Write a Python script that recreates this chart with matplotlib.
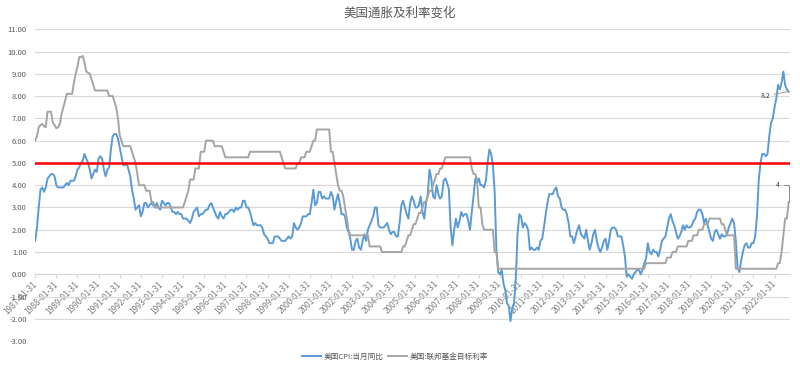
import matplotlib.pyplot as plt

plt.rcParams['font.family'] = ['Noto Sans CJK SC', 'DejaVu Sans']

# monthly data, 1987-01 .. 2022-09
cpi_yoy = [
    1.5, 2.1, 3.0, 3.8, 3.9, 3.7, 3.9, 4.3, 4.4, 4.5, 4.5, 4.4,  # 1987
    4.0, 3.9, 3.9, 3.9, 3.9, 4.0, 4.1, 4.0, 4.2, 4.2, 4.2, 4.4,  # 1988
    4.7, 4.8, 5.0, 5.1, 5.4, 5.2, 5.0, 4.7, 4.3, 4.5, 4.7, 4.6,  # 1989
    5.2, 5.3, 5.2, 4.7, 4.4, 4.7, 4.8, 5.6, 6.2, 6.3, 6.3, 6.1,  # 1990
    5.7, 5.3, 4.9, 4.9, 5.0, 4.7, 4.4, 3.8, 3.4, 2.9, 3.0, 3.1,  # 1991
    2.6, 2.8, 3.2, 3.2, 3.0, 3.1, 3.2, 3.1, 3.0, 3.2, 3.0, 2.9,  # 1992
    3.3, 3.2, 3.1, 3.2, 3.2, 3.0, 2.8, 2.8, 2.7, 2.8, 2.7, 2.7,  # 1993
    2.5, 2.5, 2.5, 2.4, 2.3, 2.5, 2.8, 2.9, 3.0, 2.6, 2.7, 2.7,  # 1994
    2.8, 2.9, 2.9, 3.1, 3.2, 3.0, 2.8, 2.6, 2.5, 2.8, 2.6, 2.5,  # 1995
    2.7, 2.7, 2.8, 2.9, 2.9, 2.8, 3.0, 2.9, 3.0, 3.0, 3.3, 3.3,  # 1996
    3.0, 3.0, 2.8, 2.5, 2.2, 2.3, 2.2, 2.2, 2.2, 2.1, 1.8, 1.7,  # 1997
    1.6, 1.4, 1.4, 1.4, 1.7, 1.7, 1.7, 1.6, 1.5, 1.5, 1.5, 1.6,  # 1998
    1.7, 1.6, 1.7, 2.3, 2.1, 2.0, 2.1, 2.3, 2.6, 2.6, 2.6, 2.7,  # 1999
    2.7, 3.2, 3.8, 3.1, 3.2, 3.7, 3.7, 3.4, 3.5, 3.4, 3.4, 3.4,  # 2000
    3.7, 3.5, 2.9, 3.3, 3.6, 3.2, 2.7, 2.7, 2.6, 2.1, 1.9, 1.6,  # 2001
    1.1, 1.1, 1.5, 1.6, 1.2, 1.1, 1.5, 1.8, 1.5, 2.0, 2.2, 2.4,  # 2002
    2.6, 3.0, 3.0, 2.2, 2.1, 2.1, 2.1, 2.2, 2.3, 2.0, 1.8, 1.9,  # 2003
    1.9, 1.7, 1.7, 2.3, 3.1, 3.3, 3.0, 2.7, 2.5, 3.2, 3.5, 3.3,  # 2004
    3.0, 3.0, 3.1, 3.5, 2.8, 2.5, 3.2, 3.6, 4.7, 4.3, 3.5, 3.4,  # 2005
    4.0, 3.6, 3.4, 3.5, 4.2, 4.3, 4.1, 3.8, 2.1, 1.3, 2.0, 2.5,  # 2006
    2.1, 2.4, 2.8, 2.6, 2.7, 2.7, 2.4, 2.0, 2.8, 3.5, 4.3, 4.1,  # 2007
    4.3, 4.0, 4.0, 3.9, 4.2, 5.0, 5.6, 5.4, 4.9, 3.7, 1.1, 0.1,  # 2008
    0.0, 0.2, -0.4, -0.7, -1.3, -1.4, -2.1, -1.5, -1.3, -0.2, 1.8, 2.7,  # 2009
    2.6, 2.1, 2.3, 2.2, 2.0, 1.1, 1.2, 1.1, 1.1, 1.2, 1.1, 1.5,  # 2010
    1.6, 2.1, 2.7, 3.2, 3.6, 3.6, 3.6, 3.8, 3.9, 3.5, 3.4, 3.0,  # 2011
    2.9, 2.9, 2.7, 2.3, 1.7, 1.7, 1.4, 1.7, 2.0, 2.2, 1.8, 1.7,  # 2012
    1.6, 2.0, 1.5, 1.1, 1.4, 1.8, 2.0, 1.5, 1.2, 1.0, 1.2, 1.5,  # 2013
    1.6, 1.1, 1.5, 2.0, 2.1, 2.1, 2.0, 1.7, 1.7, 1.7, 1.3, 0.8,  # 2014
    -0.1, 0.0, -0.1, -0.2, 0.0, 0.1, 0.2, 0.2, 0.0, 0.2, 0.5, 0.7,  # 2015
    1.4, 1.0, 0.9, 1.1, 1.0, 1.0, 0.8, 1.1, 1.5, 1.6, 1.7, 2.1,  # 2016
    2.5, 2.7, 2.4, 2.2, 1.9, 1.6, 1.7, 1.9, 2.2, 2.0, 2.2, 2.1,  # 2017
    2.1, 2.2, 2.4, 2.5, 2.8, 2.9, 2.9, 2.7, 2.3, 2.5, 2.2, 1.9,  # 2018
    1.6, 1.5, 1.9, 2.0, 1.8, 1.6, 1.8, 1.7, 1.7, 1.8, 2.1, 2.3,  # 2019
    2.5, 2.3, 1.5, 0.3, 0.1, 0.6, 1.0, 1.3, 1.4, 1.2, 1.2, 1.4,  # 2020
    1.4, 1.7, 2.6, 4.2, 5.0, 5.4, 5.4, 5.3, 5.4, 6.2, 6.8, 7.0,  # 2021
    7.5, 7.9, 8.5, 8.3, 8.6, 9.1, 8.5, 8.3, 8.2,  # 2022
]

fed_target = [
    6.0, 6.2, 6.6, 6.7, 6.75, 6.65, 6.6, 7.3, 7.3, 7.3, 6.8, 6.7,  # 1987
    6.55, 6.6, 6.75, 7.2, 7.5, 7.8, 8.1, 8.1, 8.1, 8.1, 8.6, 9.0,  # 1988
    9.3, 9.75, 9.75, 9.8, 9.5, 9.1, 9.05, 9.0, 8.75, 8.5, 8.25, 8.25,  # 1989
    8.25, 8.25, 8.25, 8.25, 8.25, 8.25, 8.0, 8.0, 8.0, 7.75, 7.5, 7.0,  # 1990
    6.25, 6.0, 5.75, 5.75, 5.75, 5.75, 5.75, 5.5, 5.25, 5.0, 4.5, 4.0,  # 1991
    4.0, 4.0, 4.0, 3.75, 3.75, 3.75, 3.25, 3.25, 3.0, 3.0, 3.0, 3.0,  # 1992
    3.0, 3.0, 3.0, 3.0, 3.0, 3.0, 3.0, 3.0, 3.0, 3.0, 3.0, 3.0,  # 1993
    3.0, 3.25, 3.5, 3.75, 4.25, 4.25, 4.25, 4.75, 4.75, 4.75, 5.5, 5.5,  # 1994
    5.5, 6.0, 6.0, 6.0, 6.0, 6.0, 5.75, 5.75, 5.75, 5.75, 5.75, 5.5,  # 1995
    5.25, 5.25, 5.25, 5.25, 5.25, 5.25, 5.25, 5.25, 5.25, 5.25, 5.25, 5.25,  # 1996
    5.25, 5.25, 5.5, 5.5, 5.5, 5.5, 5.5, 5.5, 5.5, 5.5, 5.5, 5.5,  # 1997
    5.5, 5.5, 5.5, 5.5, 5.5, 5.5, 5.5, 5.5, 5.25, 5.0, 4.75, 4.75,  # 1998
    4.75, 4.75, 4.75, 4.75, 4.75, 5.0, 5.0, 5.25, 5.25, 5.25, 5.5, 5.5,  # 1999
    5.5, 5.75, 6.0, 6.0, 6.5, 6.5, 6.5, 6.5, 6.5, 6.5, 6.5, 6.5,  # 2000
    5.5, 5.5, 5.0, 4.5, 4.0, 3.75, 3.75, 3.5, 3.0, 2.5, 2.0, 1.75,  # 2001
    1.75, 1.75, 1.75, 1.75, 1.75, 1.75, 1.75, 1.75, 1.75, 1.75, 1.25, 1.25,  # 2002
    1.25, 1.25, 1.25, 1.25, 1.25, 1.0, 1.0, 1.0, 1.0, 1.0, 1.0, 1.0,  # 2003
    1.0, 1.0, 1.0, 1.0, 1.0, 1.25, 1.25, 1.5, 1.75, 1.75, 2.0, 2.25,  # 2004
    2.25, 2.5, 2.75, 2.75, 3.0, 3.25, 3.25, 3.5, 3.75, 3.75, 4.0, 4.25,  # 2005
    4.5, 4.5, 4.75, 4.75, 5.0, 5.25, 5.25, 5.25, 5.25, 5.25, 5.25, 5.25,  # 2006
    5.25, 5.25, 5.25, 5.25, 5.25, 5.25, 5.25, 5.25, 4.75, 4.5, 4.5, 4.25,  # 2007
    3.0, 3.0, 2.25, 2.0, 2.0, 2.0, 2.0, 2.0, 2.0, 1.0, 1.0, 0.25,  # 2008
    0.25, 0.25, 0.25, 0.25, 0.25, 0.25, 0.25, 0.25, 0.25, 0.25, 0.25, 0.25,  # 2009
    0.25, 0.25, 0.25, 0.25, 0.25, 0.25, 0.25, 0.25, 0.25, 0.25, 0.25, 0.25,  # 2010
    0.25, 0.25, 0.25, 0.25, 0.25, 0.25, 0.25, 0.25, 0.25, 0.25, 0.25, 0.25,  # 2011
    0.25, 0.25, 0.25, 0.25, 0.25, 0.25, 0.25, 0.25, 0.25, 0.25, 0.25, 0.25,  # 2012
    0.25, 0.25, 0.25, 0.25, 0.25, 0.25, 0.25, 0.25, 0.25, 0.25, 0.25, 0.25,  # 2013
    0.25, 0.25, 0.25, 0.25, 0.25, 0.25, 0.25, 0.25, 0.25, 0.25, 0.25, 0.25,  # 2014
    0.25, 0.25, 0.25, 0.25, 0.25, 0.25, 0.25, 0.25, 0.25, 0.25, 0.25, 0.5,  # 2015
    0.5, 0.5, 0.5, 0.5, 0.5, 0.5, 0.5, 0.5, 0.5, 0.5, 0.5, 0.75,  # 2016
    0.75, 0.75, 1.0, 1.0, 1.0, 1.25, 1.25, 1.25, 1.25, 1.25, 1.25, 1.5,  # 2017
    1.5, 1.5, 1.75, 1.75, 1.75, 2.0, 2.0, 2.0, 2.25, 2.25, 2.25, 2.5,  # 2018
    2.5, 2.5, 2.5, 2.5, 2.5, 2.5, 2.25, 2.25, 2.0, 1.75, 1.75, 1.75,  # 2019
    1.75, 1.75, 0.25, 0.25, 0.25, 0.25, 0.25, 0.25, 0.25, 0.25, 0.25, 0.25,  # 2020
    0.25, 0.25, 0.25, 0.25, 0.25, 0.25, 0.25, 0.25, 0.25, 0.25, 0.25, 0.25,  # 2021
    0.25, 0.25, 0.5, 0.5, 1.0, 1.75, 2.5, 2.5, 3.25,  # 2022
]

years = list(range(1987, 2023))
tick_labels = [f"{y}-01-31" for y in years]
threshold = 5.0
cpi_label = "8.2"
fed_label = "4"

gray_text = '#595959'
grid_color = '#D9D9D9'

fig = plt.figure(figsize=(8, 3.7), dpi=100)
ax = fig.add_axes([0.044, 0.078, 0.944, 0.843])

x = list(range(len(cpi_yoy)))
ax.plot(x, cpi_yoy, color='#5B9BD5', lw=1.4, label='美国CPI:当月同比', zorder=3)
ax.plot(x, fed_target, color='#A5A5A5', lw=1.4, label='美国:联邦基金目标利率', zorder=3)
ax.axhline(threshold, color='#FF0000', lw=1.8, zorder=4)

# end labels with leader lines
ax.annotate(cpi_label, xy=(x[-1], cpi_yoy[-1]), xytext=(-17, -3), textcoords='offset points',
            ha='center', va='center', fontsize=5, color='#404040',
            arrowprops=dict(arrowstyle='-', color='#999999', lw=0.7, shrinkA=1, shrinkB=0))
ax.annotate(fed_label, xy=(x[-1], fed_target[-1]), xytext=(-8, 12), textcoords='offset points',
            ha='center', va='center', fontsize=5, color='#404040',
            arrowprops=dict(arrowstyle='-', color='#8C8C8C', lw=0.7, shrinkA=1, shrinkB=0,
                            connectionstyle='angle,angleA=0,angleB=90,rad=0'))

ax.set_xlim(0, 429)
ax.set_ylim(-3, 11)
ax.set_yticks(range(-3, 12))
ax.set_yticklabels([f"{v:.2f}" for v in range(-3, 12)])
ax.set_xticks(range(0, len(x), 12))
ax.set_xticklabels(tick_labels)

for s in ['top', 'right', 'left']:
    ax.spines[s].set_visible(False)
ax.spines['bottom'].set_position(('data', 0))
ax.spines['bottom'].set_color(grid_color)

ax.grid(axis='y', color=grid_color, lw=0.8)
ax.set_axisbelow(True)
ax.tick_params(axis='y', length=0, labelsize=5.5, labelcolor=gray_text, pad=6)
ax.tick_params(axis='x', length=3, color=grid_color, labelsize=6, labelcolor='#7F7F7F', pad=3)
for lab in ax.get_xticklabels():
    lab.set_rotation(45)
    lab.set_ha('right')
    lab.set_va('center')
    lab.set_rotation_mode('anchor')

fig.text(0.5, 0.965, '美国通胀及利率变化', ha='center', va='center', fontsize=9, color=gray_text)
fig.legend(loc='center', bbox_to_anchor=(0.494, 0.035), ncol=2, frameon=False, fontsize=5.5,
           handlelength=2.5, columnspacing=0.6, handletextpad=0.3, labelcolor=gray_text)

fig.savefig('out.png', dpi=100)
